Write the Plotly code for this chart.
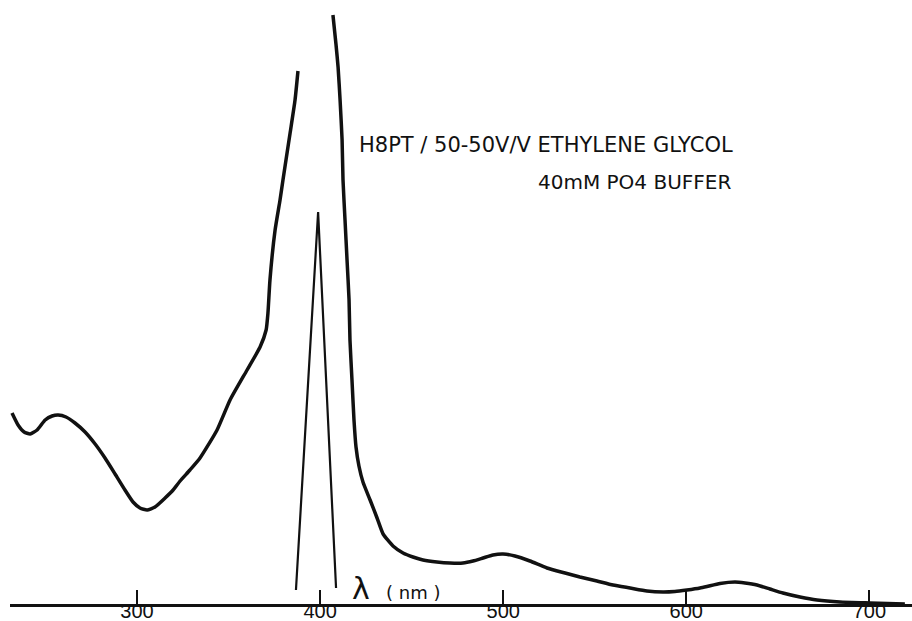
import plotly.graph_objects as go

# Main absorption spectrum (wavelength nm, absorbance a.u.), two segments (peak off-scale)
wl_left = [231.7, 235.0, 238.3, 241.6, 245.4, 249.8, 253.6, 256.9, 261.2, 266.1, 271.6, 277.1,
           282.5, 288.0, 293.4, 297.8, 301.6, 305.5, 309.8, 315.3, 319.7, 323.5, 328.9, 334.4,
           343.7, 350.8, 360.1, 367.2, 370.5, 371.5, 372.6, 375.4, 378.1, 379.7, 383.6, 386.3, 387.9]
ab_left = [1.91, 1.79, 1.72, 1.70, 1.74, 1.84, 1.88, 1.89, 1.87, 1.81, 1.72, 1.60,
           1.46, 1.30, 1.14, 1.02, 0.96, 0.94, 0.97, 1.06, 1.14, 1.23, 1.34, 1.46,
           1.74, 2.04, 2.34, 2.57, 2.74, 2.91, 3.24, 3.74, 4.04, 4.24, 4.71, 5.04, 5.33]

wl_right = [407.0, 408.7, 409.8, 410.9, 412.0, 412.5, 413.6, 414.7, 415.8, 416.3, 417.4, 418.5,
            419.6, 421.2, 423.4, 427.3, 431.1, 434.4, 439.8, 445.3, 450.7, 456.2, 463.8, 470.9, 478.0,
            483.5, 489.0, 494.4, 499.9, 506.4, 514.6, 523.9, 533.8, 541.9, 551.2, 560.0, 569.3,
            578.5, 587.3, 593.8, 600.4, 607.5, 611.3, 618.4, 626.6, 632.1, 638.6, 645.7, 652.8,
            662.1, 671.4, 683.9, 700.3, 719.4]
ab_right = [5.89, 5.59, 5.37, 5.04, 4.64, 4.24, 3.84, 3.44, 3.04, 2.64, 2.24, 1.84,
            1.57, 1.38, 1.22, 1.04, 0.86, 0.70, 0.58, 0.51, 0.47, 0.44, 0.42, 0.41, 0.41,
            0.43, 0.46, 0.49, 0.50, 0.48, 0.43, 0.36, 0.31, 0.27, 0.23, 0.19, 0.16,
            0.13, 0.12, 0.125, 0.14, 0.16, 0.175, 0.205, 0.22, 0.21, 0.19, 0.15, 0.11,
            0.07, 0.04, 0.02, 0.01, 0.0]

# Narrow reference line (thin triangle)
wl_ref = [386.8, 398.9, 408.7]
ab_ref = [0.14, 3.92, 0.16]

tick_vals = [300, 400, 500, 600, 700]
tick_text = ["300", "400", "500", "600", "700"]

title_line1 = "H8PT / 50-50V/V ETHYLENE GLYCOL"
title_line2 = "40mM PO4 BUFFER"

ink = "#111111"

fig = go.Figure()
fig.add_trace(go.Scatter(x=wl_left + [None] + wl_right, y=ab_left + [None] + ab_right,
                         mode="lines", line=dict(color=ink, width=3.5, shape="spline", smoothing=0.5),
                         connectgaps=False, showlegend=False, hoverinfo="skip"))
fig.add_trace(go.Scatter(x=wl_ref, y=ab_ref, mode="lines",
                         line=dict(color=ink, width=2.2), showlegend=False, hoverinfo="skip"))

fig.add_annotation(x=626.6, y=4.59, xref="x", yref="y", text=title_line1, showarrow=False,
                   xanchor="right", yanchor="middle",
                   font=dict(family="DejaVu Sans", size=21, color=ink))
fig.add_annotation(x=625.5, y=4.22, xref="x", yref="y", text=title_line2, showarrow=False,
                   xanchor="right", yanchor="middle",
                   font=dict(family="DejaVu Sans", size=20, color=ink))
fig.add_annotation(x=422.3, y=0.16, xref="x", yref="y", text="λ", showarrow=False,
                   xanchor="center", yanchor="middle",
                   font=dict(family="DejaVu Sans", size=30, color=ink))
fig.add_annotation(x=451.0, y=0.12, xref="x", yref="y", text="( nm )", showarrow=False,
                   xanchor="center", yanchor="middle",
                   font=dict(family="DejaVu Sans", size=18, color=ink))

fig.update_layout(
    width=912, height=621,
    margin=dict(l=10, r=0, t=0, b=17, autoexpand=False),
    paper_bgcolor="white", plot_bgcolor="white",
    xaxis=dict(range=[230.6, 723.3], showgrid=False, zeroline=False, automargin=False,
               showline=True, linecolor=ink, linewidth=3,
               ticks="inside", ticklen=14, tickwidth=2, tickcolor=ink,
               tickvals=tick_vals, ticktext=tick_text, ticklabelstandoff=-13,
               tickfont=dict(family="Liberation Sans Narrow, Liberation Sans, Arial", size=20, color=ink)),
    yaxis=dict(range=[0, 6.04], visible=False, showgrid=False, zeroline=False, automargin=False),
)

fig.write_html("out.html")
